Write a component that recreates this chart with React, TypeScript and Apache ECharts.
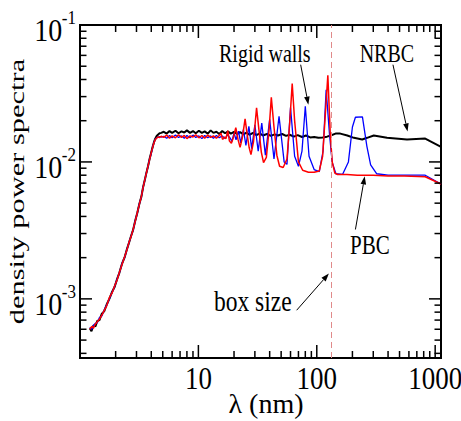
import React, { useEffect, useRef } from "react";
import * as echarts from "echarts";

// ---- axis ranges & ticks ----
const X_MIN = 1;
const X_MAX = 1120;
const Y_MIN = 3.7e-4;
const Y_MAX = 0.1;
const BOX_SIZE = 132;

const xMajorTicks = [10, 100, 1000];
const xTickLabels = ["10", "100", "1000"];
const xMinorTicks = [2, 3, 4, 5, 6, 7, 8, 9, 20, 30, 40, 50, 60, 70, 80, 90, 200, 300, 400, 500, 600, 700, 800, 900];
const yMajorTicks = [0.001, 0.01, 0.1];
const yTickExponents = ["-3", "-2", "-1"];
const yMinorTicks = [4e-4, 5e-4, 6e-4, 7e-4, 8e-4, 9e-4, 2e-3, 3e-3, 4e-3, 5e-3, 6e-3, 7e-3, 8e-3, 9e-3, 0.02, 0.03, 0.04, 0.05, 0.06, 0.07, 0.08, 0.09];

// ---- NRBC (black) ----
const lambdaNRBC = [1.21, 1.25, 1.3, 1.35, 1.4, 1.46, 1.53, 1.6, 1.68, 1.77, 1.87, 1.96, 2.06, 2.15, 2.27, 2.39, 2.5, 2.59, 2.7, 2.81, 2.93, 3.05, 3.17, 3.3, 3.41, 3.53, 3.64, 3.75, 3.86, 3.96, 4.05, 4.13, 4.22, 4.32, 4.43, 4.55, 4.7, 4.85,
  5.1, 5.4, 5.7, 6.0, 6.4, 6.8, 7.2, 7.6, 8.0, 8.5, 9.0, 9.5, 10.1, 10.7, 11.3, 12.0, 12.7, 13.4, 14.2, 15.0, 15.9, 16.8, 17.8, 18.8, 20.0, 21.2, 22.5, 24, 25.5, 27, 29, 31, 33, 35, 38, 41, 44, 47, 51, 55, 59, 64, 69, 75, 81, 88, 95, 103, 112, 122, 131, 144, 158, 181, 206, 242, 266, 303, 392, 578, 824, 1120];
const densityNRBC = [6.1e-4, 5.8e-4, 6.4e-4, 6.3e-4, 6.9e-4, 7.0e-4, 7.8e-4, 8.1e-4, 9.1e-4, 1.0e-3, 1.13e-3, 1.22e-3, 1.4e-3, 1.55e-3, 1.82e-3, 2.03e-3, 2.33e-3, 2.56e-3, 2.88e-3, 3.19e-3, 3.73e-3, 4.25e-3, 4.93e-3, 5.58e-3, 6.53e-3, 7.4e-3, 8.35e-3, 9.25e-3, 0.0104, 0.0114, 0.0123, 0.0131, 0.014, 0.0148, 0.0154, 0.0158, 0.0162, 0.0163,
  0.0166, 0.0161, 0.0168, 0.0163, 0.0169, 0.0162, 0.0167, 0.0164, 0.017, 0.0163, 0.0168, 0.0162, 0.0169, 0.0163, 0.0167, 0.0161, 0.017, 0.0163, 0.0166, 0.016, 0.0168, 0.0162, 0.0167, 0.0161, 0.0166, 0.016, 0.0165, 0.0159, 0.0164, 0.0158, 0.0163, 0.0157, 0.0162, 0.0156, 0.016, 0.0155, 0.0159, 0.0156, 0.016, 0.0155, 0.0158, 0.0153, 0.0157, 0.0152, 0.0156, 0.0151, 0.0152, 0.015, 0.0151, 0.0153, 0.0156, 0.0161, 0.0161, 0.0156, 0.015, 0.0146, 0.015, 0.0156, 0.015, 0.0146, 0.0148, 0.0129];

// ---- Rigid walls (blue) ----
const lambdaRigid = [1.21, 1.26, 1.3, 1.34, 1.4, 1.46, 1.53, 1.6, 1.68, 1.77, 1.87, 1.96, 2.06, 2.15, 2.27, 2.39, 2.5, 2.59, 2.7, 2.81, 2.93, 3.05, 3.17, 3.3, 3.41, 3.53, 3.64, 3.75, 3.86, 3.96, 4.05, 4.13, 4.22, 4.32, 4.43, 4.55, 4.7, 4.85,
  5.1, 5.4, 5.7, 6.0, 6.4, 6.8, 7.2, 7.6, 8.0, 8.5, 9.0, 9.5, 10.1, 10.7, 11.3, 12.0, 12.7, 13.4, 14.2, 15.0, 15.9, 16.8, 17.6, 18.5, 19.2, 20.0, 20.8, 21.8, 22.8, 24.0, 25.2, 26.7, 28.2, 30.0, 32.0, 34.3, 36.8, 40.0, 43.5, 48.0, 53, 56, 60, 65, 70, 75, 80, 86, 95, 105, 113, 120, 128, 135, 145, 165, 185, 200, 212, 243, 265, 285, 320, 400, 550, 824, 1120];
const densityRigid = [6.2e-4, 6.0e-4, 6.4e-4, 6.6e-4, 6.7e-4, 7.3e-4, 7.5e-4, 8.3e-4, 9.0e-4, 1.0e-3, 1.12e-3, 1.23e-3, 1.4e-3, 1.55e-3, 1.82e-3, 2.03e-3, 2.32e-3, 2.57e-3, 2.87e-3, 3.19e-3, 3.72e-3, 4.25e-3, 4.93e-3, 5.58e-3, 6.53e-3, 7.4e-3, 8.35e-3, 9.25e-3, 0.0104, 0.0112, 0.0121, 0.0131, 0.0139, 0.0146, 0.015, 0.0151, 0.0153, 0.0152,
  0.0154, 0.0149, 0.0156, 0.015, 0.0157, 0.0151, 0.0155, 0.0149, 0.0156, 0.015, 0.0157, 0.0151, 0.0155, 0.0148, 0.0156, 0.015, 0.0155, 0.0149, 0.0156, 0.015, 0.0155, 0.0148, 0.0158, 0.015, 0.0141, 0.0163, 0.0145, 0.0168, 0.0138, 0.0172, 0.0132, 0.0182, 0.0125, 0.0187, 0.012, 0.0192, 0.0112, 0.0205, 0.0105, 0.0215, 0.01, 0.0096, 0.025, 0.011, 0.0093, 0.012, 0.0255, 0.011, 0.0088, 0.0085, 0.012, 0.0337, 0.016, 0.0099, 0.0082, 0.0081, 0.01, 0.018, 0.0212, 0.0213, 0.013, 0.0095, 0.0082, 0.008, 0.008, 0.008, 0.0069];

// ---- PBC (red) ----
const lambdaPBC = [1.21, 1.26, 1.3, 1.34, 1.4, 1.46, 1.53, 1.6, 1.68, 1.77, 1.87, 1.96, 2.06, 2.15, 2.27, 2.39, 2.5, 2.59, 2.7, 2.81, 2.93, 3.05, 3.17, 3.3, 3.41, 3.53, 3.64, 3.75, 3.86, 3.96, 4.05, 4.13, 4.22, 4.32, 4.43, 4.55, 4.7, 4.85,
  5.1, 5.4, 5.7, 6.0, 6.4, 6.8, 7.2, 7.6, 8.0, 8.5, 9.0, 9.5, 10.1, 10.7, 11.3, 12.0, 12.7, 13.4, 14.2, 15.0, 15.5, 16.0, 16.6, 17.1, 17.7, 18.3, 19.0, 19.8, 20.7, 21.6, 22.5, 23.5, 24.8, 25.8, 26.8, 27.8, 29.2, 31.0, 32.5, 34.0, 35.5, 37.5, 39.5, 41.3, 43.5, 46, 48.5, 52, 56, 59, 62, 65, 70, 76, 85, 95, 105, 112, 118, 124, 130, 135, 142, 150, 180, 220, 300, 400, 550, 824, 1120];
const densityPBC = [6.0e-4, 6.3e-4, 6.1e-4, 6.5e-4, 6.8e-4, 7.1e-4, 7.6e-4, 8.2e-4, 8.9e-4, 1.02e-3, 1.11e-3, 1.24e-3, 1.38e-3, 1.56e-3, 1.8e-3, 2.05e-3, 2.3e-3, 2.58e-3, 2.85e-3, 3.21e-3, 3.7e-3, 4.27e-3, 4.9e-3, 5.61e-3, 6.5e-3, 7.43e-3, 8.3e-3, 9.29e-3, 0.0103, 0.0113, 0.0122, 0.013, 0.0138, 0.01455, 0.0149, 0.0152, 0.0151, 0.0154,
  0.0151, 0.0157, 0.0149, 0.0155, 0.015, 0.0158, 0.0151, 0.0156, 0.0148, 0.0155, 0.0152, 0.0158, 0.015, 0.0156, 0.0149, 0.0157, 0.0151, 0.0155, 0.0149, 0.0156, 0.0162, 0.0146, 0.0152, 0.0148, 0.0169, 0.0142, 0.0137, 0.0152, 0.0178, 0.0146, 0.0128, 0.015, 0.0206, 0.016, 0.0128, 0.0113, 0.014, 0.0248, 0.017, 0.0118, 0.0099, 0.0108, 0.017, 0.0296, 0.018, 0.0112, 0.0093, 0.0091, 0.0105, 0.019, 0.0373, 0.02, 0.01, 0.0087, 0.0084, 0.0084, 0.0086, 0.011, 0.022, 0.0429, 0.016, 0.01, 0.0083, 0.0081, 0.0081, 0.008, 0.008, 0.0079, 0.0079, 0.0078, 0.0069];

// ---- annotations (data coordinates) ----
const annotationLabels = ["Rigid walls", "NRBC", "PBC", "box size"];
const annotationTextAt = [[36.4, 0.0617], [391, 0.0617], [281, 0.00245], [28.8, 9.7e-4]];
const annotationArrowFrom = [[73.1, 0.0513], [440, 0.0513], [212, 0.00321], [67.6, 8.26e-4]];
const annotationArrowTo = [[84.9, 0.0262], [585, 0.0167], [254, 0.00785], [126.5, 1.53e-3]];
const annotationFontSizes = [20, 20, 21, 23.5];

const FONT = '"Liberation Serif", "Times New Roman", serif';

const zip = (xs: number[], ys: number[]) => xs.map((x, i) => [x, ys[i]]);

function textStyle(text: string, size: number, align: string, vAlign: string) {
  return {
    text,
    x: 0,
    y: 0,
    font: `${size}px ${FONT}`,
    fill: "#000",
    align,
    verticalAlign: vAlign,
    textAlign: align,
    textVerticalAlign: vAlign,
  };
}

export default function App() {
  const ref = useRef<HTMLDivElement>(null);

  useEffect(() => {
    document.body.style.margin = "0";
    if (!ref.current) return;
    const chart = echarts.init(ref.current, undefined, { renderer: "svg" });

    const allXTicks = [...xMajorTicks, ...xMinorTicks];
    const allYTicks = [...yMajorTicks, ...yMinorTicks];

    const option: any = {
      animation: false,
      backgroundColor: "#fff",
      grid: {
        left: 80,
        right: 20,
        top: 25,
        bottom: 63,
        show: true,
        borderColor: "#000",
        borderWidth: 2,
        backgroundColor: "transparent",
        containLabel: false,
      },
      xAxis: {
        type: "log",
        logBase: 10,
        min: X_MIN,
        max: X_MAX,
        axisLine: { show: false },
        axisTick: { show: false },
        axisLabel: { show: false },
        splitLine: { show: false },
        minorTick: { show: false },
      },
      yAxis: {
        type: "log",
        logBase: 10,
        min: Y_MIN,
        max: Y_MAX,
        axisLine: { show: false },
        axisTick: { show: false },
        axisLabel: { show: false },
        splitLine: { show: false },
        minorTick: { show: false },
      },
      graphic: [
        {
          type: "text",
          x: 17.5,
          y: 191.5,
          rotation: Math.PI / 2,
          scaleX: 1.45,
          style: textStyle("density power spectra", 21, "center", "middle"),
        },
        {
          type: "text",
          x: 266,
          y: 403,
          style: textStyle("λ (nm)", 28, "center", "middle"),
        },
      ],
      series: [
        {
          name: "NRBC",
          type: "line",
          data: zip(lambdaNRBC, densityNRBC),
          showSymbol: false,
          symbol: "none",
          lineStyle: { color: "#000", width: 2 },
          z: 2,
          clip: true,
          markLine: {
            silent: true,
            symbol: ["none", "none"],
            label: { show: false },
            lineStyle: { color: "#e08a8a", type: [6, 4], width: 1, opacity: 1 },
            data: [{ xAxis: BOX_SIZE }],
          },
        },
        {
          name: "Rigid walls",
          type: "line",
          data: zip(lambdaRigid, densityRigid),
          showSymbol: false,
          symbol: "none",
          lineStyle: { color: "#0000ff", width: 1.3 },
          z: 2,
          clip: true,
        },
        {
          name: "PBC",
          type: "line",
          data: zip(lambdaPBC, densityPBC),
          showSymbol: false,
          symbol: "none",
          lineStyle: { color: "#ff0000", width: 1.5 },
          z: 2,
          clip: true,
        },
        {
          name: "xTicks",
          type: "custom",
          silent: true,
          clip: false,
          z: 5,
          data: allXTicks.map((v) => [v, Y_MIN]),
          renderItem: (params: any, api: any) => {
            const i = params.dataIndex;
            const v = allXTicks[i];
            const major = i < xMajorTicks.length;
            const cs = params.coordSys;
            const px = api.coord([v, Y_MIN])[0];
            const len = major ? 13 : 7;
            const top = cs.y;
            const bottom = cs.y + cs.height;
            const children: any[] = [
              { type: "line", shape: { x1: px, y1: bottom, x2: px, y2: bottom - len }, style: { stroke: "#000", lineWidth: 1.5 } },
              { type: "line", shape: { x1: px, y1: top, x2: px, y2: top + len }, style: { stroke: "#000", lineWidth: 1.5 } },
            ];
            if (major) {
              children.push({
                type: "text",
                x: px,
                y: bottom + 20,
                scaleY: 1.2,
                style: textStyle(xTickLabels[i], 27, "center", "middle"),
              });
            }
            return { type: "group", children };
          },
        },
        {
          name: "yTicks",
          type: "custom",
          silent: true,
          clip: false,
          z: 5,
          data: allYTicks.map((v) => [X_MIN, v]),
          renderItem: (params: any, api: any) => {
            const i = params.dataIndex;
            const v = allYTicks[i];
            const major = i < yMajorTicks.length;
            const cs = params.coordSys;
            const py = api.coord([X_MIN, v])[1];
            const len = major ? 12 : 6.5;
            const left = cs.x;
            const right = cs.x + cs.width;
            const children: any[] = [
              { type: "line", shape: { x1: left, y1: py, x2: left + len, y2: py }, style: { stroke: "#000", lineWidth: 1.5 } },
              { type: "line", shape: { x1: right, y1: py, x2: right - len, y2: py }, style: { stroke: "#000", lineWidth: 1.5 } },
            ];
            if (major) {
              const xr = left - 17.7;
              children.push({
                type: "text",
                x: xr,
                y: py + 6,
                scaleY: 1.1,
                style: textStyle("10", 28, "right", "middle"),
              });
              children.push({
                type: "text",
                x: xr - 0.5,
                y: py - 7,
                scaleY: 1.1,
                style: textStyle(yTickExponents[i], 17, "left", "middle"),
              });
            }
            return { type: "group", children };
          },
        },
        {
          name: "annotations",
          type: "custom",
          silent: true,
          clip: false,
          z: 6,
          data: annotationTextAt.map((p) => [p[0], p[1]]),
          renderItem: (params: any, api: any) => {
            const i = params.dataIndex;
            const t = api.coord(annotationTextAt[i]);
            const a = api.coord(annotationArrowFrom[i]);
            const b = api.coord(annotationArrowTo[i]);
            const dx = b[0] - a[0];
            const dy = b[1] - a[1];
            const L = Math.hypot(dx, dy) || 1;
            const ux = dx / L;
            const uy = dy / L;
            const hl = 8;
            const hw = 2.8;
            const bx = b[0] - ux * hl;
            const by = b[1] - uy * hl;
            return {
              type: "group",
              children: [
                {
                  type: "text",
                  x: t[0],
                  y: t[1],
                  scaleY: 1.25,
                  style: textStyle(annotationLabels[i], annotationFontSizes[i], "center", "middle"),
                },
                {
                  type: "line",
                  shape: { x1: a[0], y1: a[1], x2: bx, y2: by },
                  style: { stroke: "#000", lineWidth: 1 },
                },
                {
                  type: "polygon",
                  shape: {
                    points: [
                      [b[0], b[1]],
                      [bx - uy * hw, by + ux * hw],
                      [bx + uy * hw, by - ux * hw],
                    ],
                  },
                  style: { fill: "#000" },
                },
              ],
            };
          },
        },
      ],
    };

    chart.setOption(option);
    return () => {
      chart.dispose();
    };
  }, []);

  return <div ref={ref} style={{ width: 461, height: 421, overflow: "hidden" }} />;
}
